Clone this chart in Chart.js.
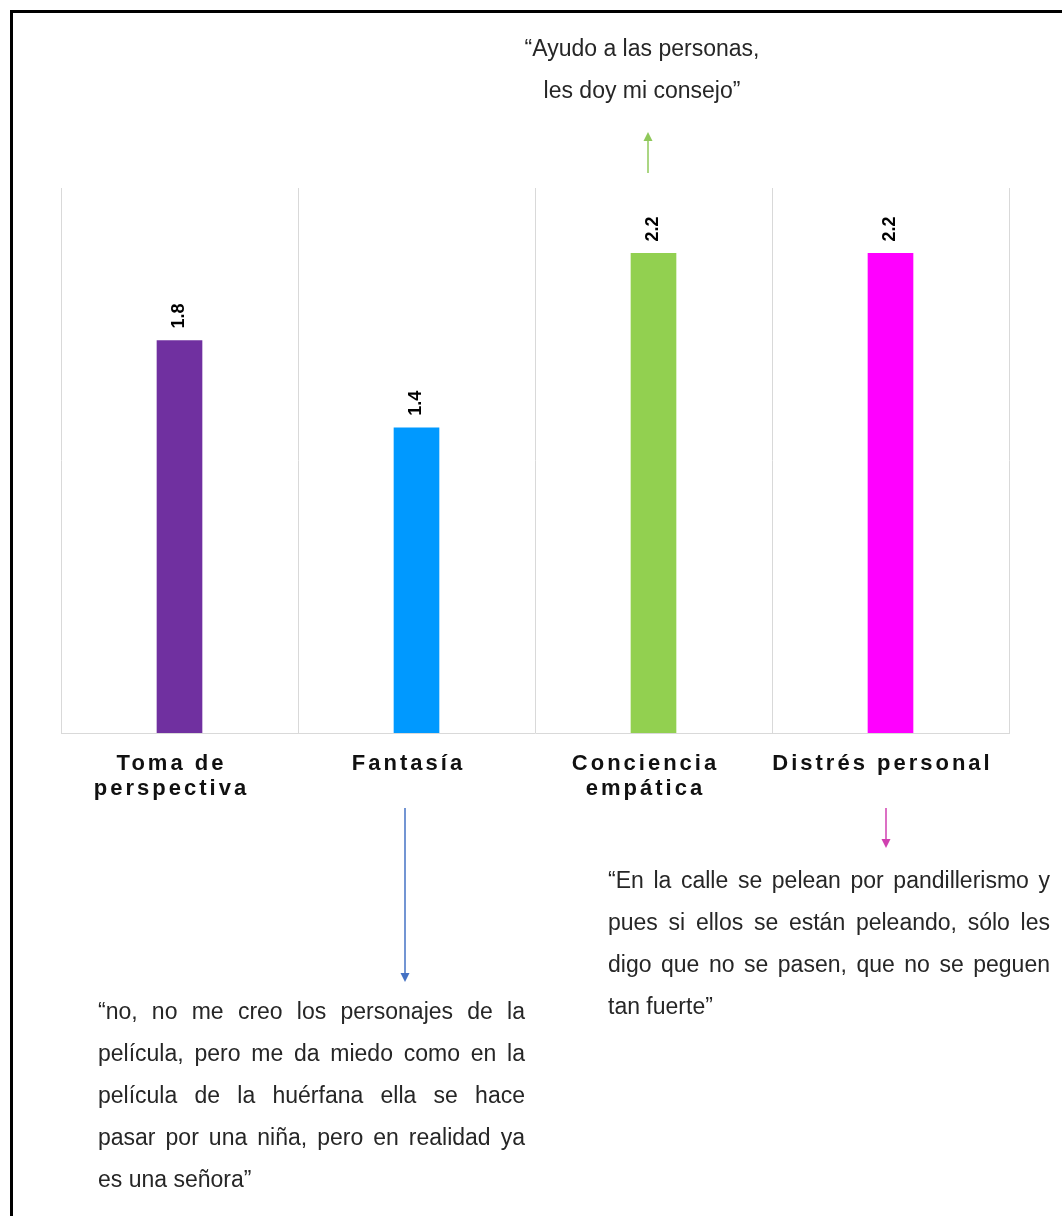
<!DOCTYPE html>
<html>
<head>
<meta charset="utf-8">
<script src="https://cdn.jsdelivr.net/npm/chart.js@4.4.1/dist/chart.umd.min.js"></script>
<style>
  html, body { margin: 0; padding: 0; background: #fff; }
  body { width: 1062px; height: 1216px; position: relative; overflow: hidden; font-family: "Liberation Sans", Arial, sans-serif; }
  #frame { position: absolute; left: 10px; top: 10px; width: 1100px; height: 1300px; border-top: 3px solid #000; border-left: 3px solid #000; }
  #wrap { position: absolute; left: 0; top: 0; width: 1062px; height: 1216px; }
  .quote { position: absolute; font-size: 23px; line-height: 42px; color: #262626; }
  .quote .j { text-align: justify; text-align-last: justify; }
  .quote .l { text-align: left; }
</style>
</head>
<body>
<div id="frame"></div>
<div id="wrap"><canvas id="myChart"></canvas></div>

<div class="quote" style="left:442px; top:27px; width:400px; text-align:center;">
  “Ayudo a las personas,<br>les doy mi consejo”
</div>

<div class="quote" style="left:98px; top:990px; width:427px;">
  <div class="j">“no, no me creo los personajes de la</div>
  <div class="j">película, pero me da miedo como en la</div>
  <div class="j">película de la huérfana ella se hace</div>
  <div class="j">pasar por una niña, pero en realidad ya</div>
  <div class="l">es una señora”</div>
</div>

<div class="quote" style="left:608px; top:859px; width:442px;">
  <div class="j">“En la calle se pelean por pandillerismo y</div>
  <div class="j">pues si ellos se están peleando, sólo les</div>
  <div class="j">digo que no se pasen, que no se peguen</div>
  <div class="l">tan fuerte”</div>
</div>

<script>
const categories = [["Toma de", "perspectiva"], ["Fantasía"], ["Conciencia", "empática"], ["Distrés personal"]];
const values = [1.8, 1.4, 2.2, 2.2];
const barColors = ["#7030a0", "#0099ff", "#92d050", "#ff00ff"];

// arrows from the bars to the quotes: [category index, x shift, y from, y to, colour]
const arrows = [
  [2, -5.5, 173, 132, "#8fc85a"],
  [1, -11.5, 808, 982, "#4472c4"],
  [3, -4.5, 808, 848, "#d040b0"]
];

const spacingPlugin = {
  id: "spacing",
  beforeDraw(chart) { chart.ctx.letterSpacing = "3px"; },
  beforeDatasetsDraw(chart) { chart.ctx.letterSpacing = "0px"; }
};

const valueLabels = {
  id: "valueLabels",
  afterDatasetsDraw(chart) {
    const ctx = chart.ctx;
    chart.getDatasetMeta(0).data.forEach((bar, i) => {
      ctx.save();
      ctx.translate(bar.x, bar.y - 12);
      ctx.rotate(-Math.PI / 2);
      ctx.font = "bold 18px 'Liberation Sans', Arial, sans-serif";
      ctx.fillStyle = "#000";
      ctx.textAlign = "left";
      ctx.textBaseline = "middle";
      ctx.fillText(values[i].toFixed(1), 0, 0);
      ctx.restore();
    });
  }
};

const arrowPlugin = {
  id: "arrows",
  afterDraw(chart) {
    const ctx = chart.ctx;
    const xScale = chart.scales.x;
    arrows.forEach(([idx, dx, y0, y1, color]) => {
      const x = xScale.getPixelForValue(idx) + dx;
      const dir = y1 > y0 ? 1 : -1;
      ctx.save();
      ctx.strokeStyle = color;
      ctx.fillStyle = color;
      ctx.lineWidth = 1.5;
      ctx.beginPath();
      ctx.moveTo(x, y0);
      ctx.lineTo(x, y1 - dir * 8);
      ctx.stroke();
      ctx.beginPath();
      ctx.moveTo(x - 4.5, y1 - dir * 9);
      ctx.lineTo(x + 4.5, y1 - dir * 9);
      ctx.lineTo(x, y1);
      ctx.closePath();
      ctx.fill();
      ctx.restore();
    });
  }
};

const chartCtx = document.getElementById("myChart").getContext("2d");
new Chart(chartCtx, {
  type: "bar",
  data: {
    labels: categories,
    datasets: [{
      data: values,
      backgroundColor: barColors,
      barThickness: 45
    }]
  },
  options: {
    responsive: true,
    maintainAspectRatio: false,
    animation: false,
    layout: { padding: { left: 61, right: 53, top: 188, bottom: 393 } },
    plugins: { legend: { display: false }, tooltip: { enabled: false } },
    scales: {
      y: { display: false, min: 0, max: 2.5 },
      x: {
        afterFit: (scale) => { scale.height = 90; },
        grid: { color: "#d9d9d9", lineWidth: 1, drawTicks: false, offset: true },
        border: { color: "#d9d9d9" },
        ticks: {
          color: "#111",
          padding: 18,
          maxRotation: 0,
          autoSkip: false,
          labelOffset: -8,
          font: { family: "'Liberation Sans', Arial, sans-serif", size: 22, weight: "bold", lineHeight: 1.15 }
        }
      }
    }
  },
  plugins: [spacingPlugin, valueLabels, arrowPlugin]
});
</script>
</body>
</html>
